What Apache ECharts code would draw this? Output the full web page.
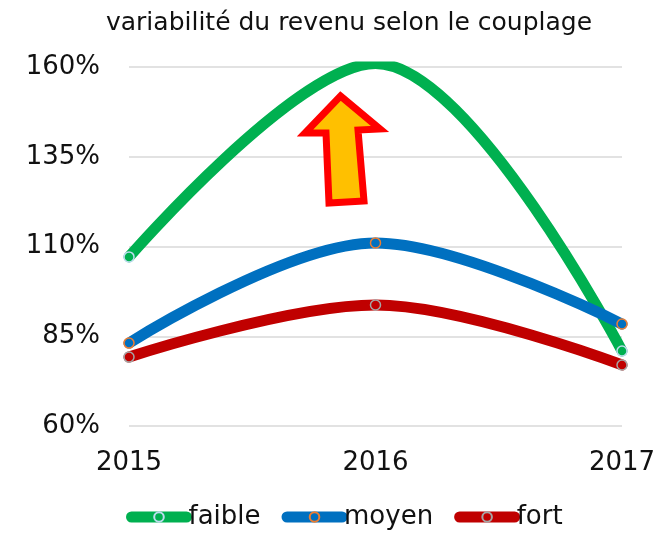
<!DOCTYPE html>
<html>
<head>
<meta charset="utf-8">
<script src="https://cdn.jsdelivr.net/npm/echarts@6/dist/echarts.min.js"></script>
<style>
  html, body { margin: 0; padding: 0; background: #fff; }
  #chart { width: 664px; height: 533px; }
</style>
</head>
<body>
<div id="chart"></div>
<script>
// données
const years = ['2015', '2016', '2017'];
const faible = [107.1, 161, 80.9];
const moyen = [83.1, 111.0, 88.4];
const fort = [79.2, 93.7, 77.0];

const fontFam = '"DejaVu Sans", Verdana, sans-serif';

function lineSeries(name, data, color, markerBorder) {
  return {
    name: name,
    type: 'line',
    data: data,
    smooth: 0.35,
    clip: true,
    symbol: 'circle',
    symbolSize: 10,
    lineStyle: { width: 11, color: color, cap: 'round', join: 'round' },
    itemStyle: { color: color, borderColor: markerBorder, borderWidth: 1.5 },
    emphasis: { disabled: true }
  };
}

const option = {
  animation: false,
  title: {
    text: 'variabilité du revenu selon le couplage',
    left: 344,
    textAlign: 'center',
    top: 6,
    textStyle: { fontFamily: fontFam, fontSize: 25, fontWeight: 'normal', color: '#111' }
  },
  grid: { left: 129, right: 42, top: 67, bottom: 107, containLabel: false },
  legend: {
    bottom: -2,
    left: 121,
    itemWidth: 55,
    itemHeight: 12,
    itemGap: 21,
    lineStyle: { width: 11, cap: 'round' },
    textStyle: { fontFamily: fontFam, fontSize: 26, color: '#111', padding: [0, 0, 0, -3] },
    data: ['faible', 'moyen', 'fort']
  },
  xAxis: {
    type: 'category',
    data: years,
    boundaryGap: false,
    axisLine: { show: false },
    axisTick: { show: false },
    axisLabel: { fontFamily: fontFam, fontSize: 26, color: '#111', margin: 24 }
  },
  yAxis: {
    type: 'value',
    min: 60,
    max: 160,
    interval: 25,
    axisLine: { show: false },
    axisTick: { show: false },
    axisLabel: { fontFamily: fontFam, fontSize: 26, color: '#111', margin: 29, formatter: '{value}%' },
    splitLine: { lineStyle: { color: '#d9d9d9', width: 1.5 } }
  },
  graphic: [
    {
      type: 'polygon',
      z: 100,
      shape: { points: [[340.5, 96], [380, 129], [358, 130], [364, 201], [329, 203], [326, 133], [305, 133]] },
      style: { fill: '#ffc000', stroke: '#ff0000', lineWidth: 7, lineJoin: 'miter' }
    }
  ],
  series: [
    lineSeries('faible', faible, '#00b050', '#bcdcee'),
    lineSeries('moyen', moyen, '#0070c0', '#ed7d31'),
    lineSeries('fort', fort, '#c00000', '#a5a5a5')
  ]
};

const myChart = echarts.init(document.getElementById('chart'));
myChart.setOption(option);
window.addEventListener('resize', function () {
  myChart.resize();
});
</script>
</body>
</html>
